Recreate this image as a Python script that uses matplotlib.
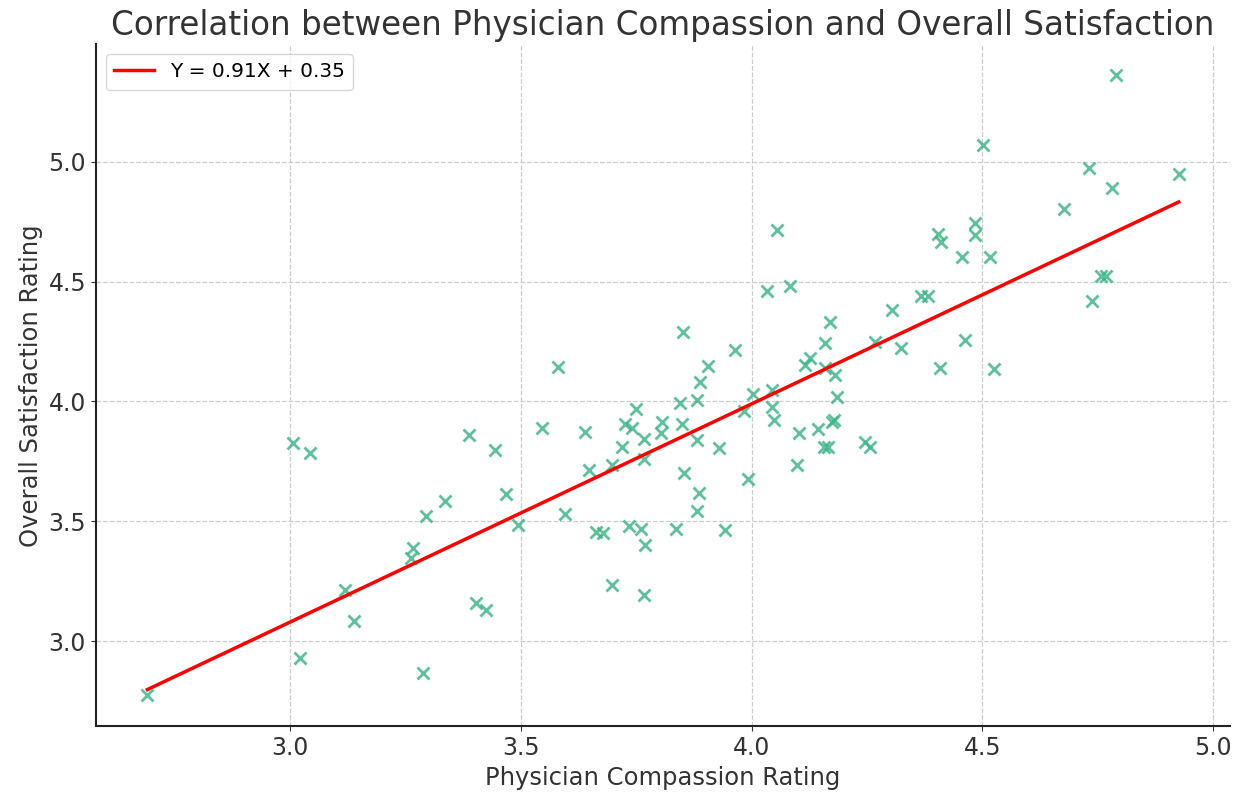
import matplotlib
matplotlib.use("Agg")
import matplotlib.pyplot as plt
import numpy as np

compassion = [
    2.690, 3.005, 3.042, 3.387, 3.444, 3.468, 3.335, 3.293, 3.266, 3.261,
    3.119, 3.137, 3.402, 3.425, 3.020, 3.287, 3.851, 3.963, 3.580, 3.906,
    3.889, 3.845, 3.882, 3.749, 3.725, 3.741, 3.806, 3.803, 3.848, 3.545,
    3.639, 3.767, 3.718, 3.882, 3.929, 3.767, 3.698, 3.648, 3.853, 3.992,
    3.886, 3.882, 3.595, 3.493, 3.662, 3.678, 3.734, 3.761, 3.835, 3.942,
    3.768, 3.697, 3.767, 3.983, 4.004, 4.044, 4.048, 4.055, 4.033, 4.084,
    4.170, 4.159, 4.127, 4.116, 4.159, 4.181, 4.044, 4.185, 4.179, 4.103,
    4.145, 4.156, 4.166, 4.246, 4.256, 4.098, 4.267, 4.323, 4.305, 4.368,
    4.382, 4.463, 4.409, 4.526, 4.405, 4.411, 4.484, 4.484, 4.456, 4.516,
    4.789, 4.501, 4.732, 4.926, 4.782, 4.678, 4.758, 4.769, 4.739, 4.175,
]
satisfaction = [
    2.774, 3.827, 3.785, 3.859, 3.799, 3.616, 3.583, 3.524, 3.388, 3.346,
    3.215, 3.082, 3.158, 3.130, 2.928, 2.869, 4.292, 4.215, 4.142, 4.148,
    4.080, 3.992, 4.008, 3.967, 3.908, 3.891, 3.915, 3.870, 3.908, 3.891,
    3.873, 3.845, 3.810, 3.838, 3.806, 3.762, 3.733, 3.715, 3.703, 3.678,
    3.619, 3.543, 3.531, 3.485, 3.457, 3.451, 3.482, 3.469, 3.469, 3.462,
    3.399, 3.234, 3.194, 3.962, 4.031, 3.975, 3.922, 4.717, 4.459, 4.480,
    4.333, 4.243, 4.183, 4.152, 4.138, 4.110, 4.050, 4.020, 3.922, 3.870,
    3.884, 3.810, 3.810, 3.831, 3.810, 3.733, 4.250, 4.225, 4.382, 4.442,
    4.442, 4.256, 4.138, 4.134, 4.699, 4.664, 4.745, 4.695, 4.601, 4.605,
    5.361, 5.072, 4.975, 4.951, 4.891, 4.805, 4.524, 4.524, 4.420, 3.916,
]
slope = 0.91
intercept = 0.35

x = np.array(compassion)
y = np.array(satisfaction)

fig = plt.figure(figsize=(12.44, 7.92), dpi=100)
ax = fig.add_axes([0.077, 0.083, 0.912, 0.861])

ax.scatter(x, y, marker="x", color="#35b383", alpha=0.8, s=75, linewidths=2)
xl = np.array([x.min(), x.max()])
ax.plot(xl, slope * xl + intercept, color="red", linewidth=2.5,
        label=f"Y = {slope:.2f}X + {intercept:.2f}")

ax.set_title("Correlation between Physician Compassion and Overall Satisfaction",
             fontsize=23.5, color="#333333", pad=7)
ax.set_xlabel("Physician Compassion Rating", fontsize=17.5, color="#333333")
ax.set_ylabel("Overall Satisfaction Rating", fontsize=17.5, color="#333333")
ax.set_xticks([3.0, 3.5, 4.0, 4.5, 5.0])
ax.set_yticks([3.0, 3.5, 4.0, 4.5, 5.0])
ax.tick_params(labelsize=17, colors="#333333")
ax.grid(True, linestyle="--", color="#cccccc", linewidth=0.9)
ax.set_axisbelow(True)
for s in ["top", "right"]:
    ax.spines[s].set_visible(False)
for s in ["left", "bottom"]:
    ax.spines[s].set_linewidth(1.5)
    ax.spines[s].set_color("#222222")
ax.legend(loc="upper left", fontsize=14.5)

fig.savefig("out.png", dpi=100)
